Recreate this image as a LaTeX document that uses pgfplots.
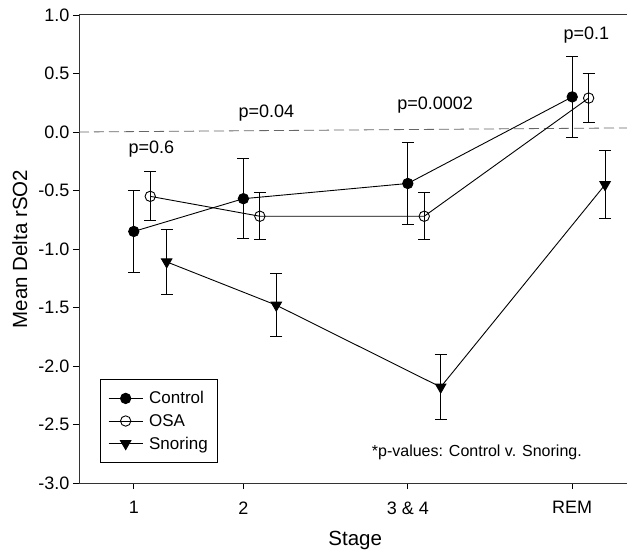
\documentclass[border=0pt]{standalone}
\usepackage{fontspec}
\setmainfont{Liberation Sans}
\usepackage{pgfplots}
\pgfplotsset{compat=1.18}

\begin{document}
\begin{tikzpicture}
\begin{axis}[
    scale only axis,
    width=548pt, height=468pt,
    xmin=0.5, xmax=5.5,
    ymin=-3, ymax=1,
    axis x line*=box,
    axis y line*=left,
    xtick pos=left, ytick pos=left,
    xtick={1,2,3.5,5},
    xticklabels={1,2,3 \& 4,REM},
    ytick={-3,-2.5,-2,-1.5,-1,-0.5,0,0.5,1},
    tick align=outside,
    major tick length=6pt,
    tick style={black, line width=0.8pt},
    axis line style={black!80, line width=1pt},
    /pgf/number format/assume math mode=true,
    yticklabel style={/pgf/number format/.cd, fixed, fixed zerofill, precision=1},
    ticklabel style={font=\fontsize{18}{21}\selectfont},
    xticklabel style={yshift=-9pt},
    xlabel={Stage},
    ylabel={Mean Delta rSO2},
    label style={font=\fontsize{20.5}{24}\selectfont},
    xlabel style={at={(axis description cs:0.504,-0.122)}, anchor=center},
    ylabel style={at={(axis description cs:-0.108,0.5)}, anchor=center},
    legend style={
        at={(axis description cs:0.038,0.222)}, anchor=north west,
        font=\fontsize{17}{20}\selectfont,
        draw=black, line width=0.8pt,
        inner xsep=8pt, inner ysep=10pt,
        row sep=5pt,
        cells={anchor=west},
        /tikz/every odd column/.append style={column sep=4pt},
    },
    legend image code/.code={
        \draw[mark repeat=2, mark phase=2, #1]
            plot coordinates {(0pt,0pt) (17pt,0pt) (34pt,0pt)};
    },
    every axis plot/.append style={line width=0.9pt, black},
    error bars/error bar style={line width=0.9pt, black},
    error bars/error mark options={rotate=90, mark size=6pt, line width=0.9pt},
]

% reference line at zero
\addplot[black!60, dash pattern=on 10pt off 5pt, line width=0.8pt, forget plot]
    coordinates {(0.5,0) (5.5,0.035)};

\addplot[mark=*, mark size=5.2pt, mark options={fill=black},
    error bars/.cd, y dir=both, y explicit]
    coordinates {
        (1,-0.85) +- (0,0.35)
        (2,-0.57) +- (0,0.34)
        (3.5,-0.44) +- (0,0.35)
        (5,0.30) +- (0,0.35)
    };
\addlegendentry{Control}

\addplot[mark=o, mark size=5.2pt, mark options={fill=white},
    error bars/.cd, y dir=both, y explicit]
    coordinates {
        (1.15,-0.55) +- (0,0.21)
        (2.15,-0.72) +- (0,0.20)
        (3.65,-0.72) +- (0,0.20)
        (5.15,0.29) +- (0,0.21)
    };
\addlegendentry{OSA}

\addplot[mark=triangle*, mark size=6pt, mark options={fill=black, rotate=180},
    error bars/.cd, y dir=both, y explicit]
    coordinates {
        (1.3,-1.11) +- (0,0.28)
        (2.3,-1.48) +- (0,0.27)
        (3.8,-2.18) +- (0,0.28)
        (5.3,-0.45) +- (0,0.29)
    };
\addlegendentry{Snoring}

\node[font=\fontsize{18}{21}\selectfont] at (axis cs:1.16,-0.15) {p=0.6};
\node[font=\fontsize{18}{21}\selectfont] at (axis cs:2.21,0.16) {p=0.04};
\node[font=\fontsize{18}{21}\selectfont] at (axis cs:3.75,0.23) {p=0.0002};
\node[font=\fontsize{18}{21}\selectfont] at (axis cs:5.13,0.83) {p=0.1};
\node[font=\fontsize{16}{19}\selectfont] at (axis cs:4.13,-2.74) {*p-values: Control v. Snoring.};
\end{axis}
\pgfresetboundingbox
\path[use as bounding box]
    ([xshift=-79pt,yshift=-72pt]current axis.south west)
    rectangle ([yshift=15pt]current axis.north east);
\end{tikzpicture}
\end{document}
